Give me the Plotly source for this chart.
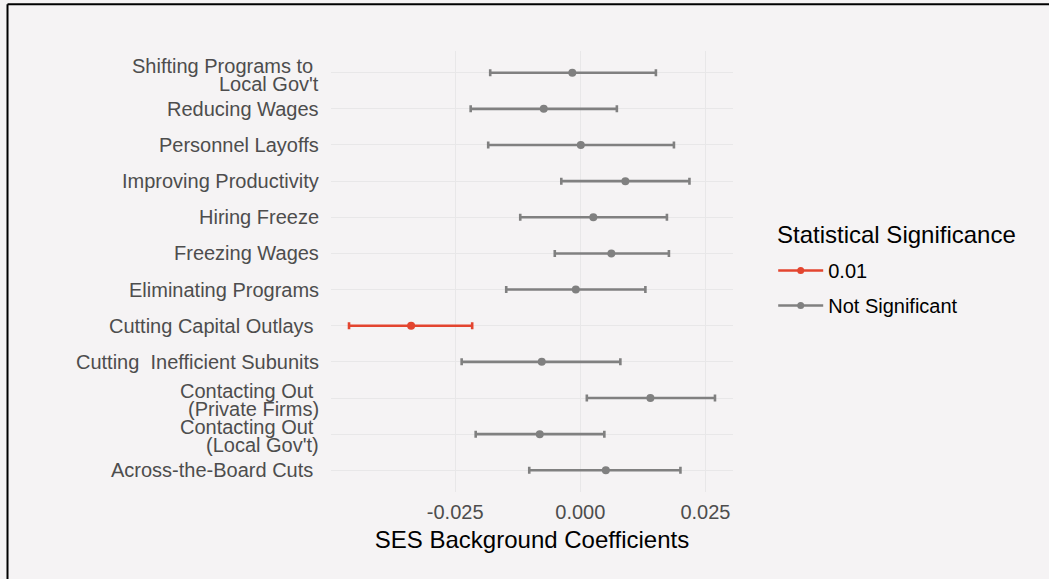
import plotly.graph_objects as go

# Strategies, listed top to bottom (line breaks marked with <br>)
strategies = [
    "Shifting Programs to <br>Local Gov't",
    "Reducing Wages",
    "Personnel Layoffs",
    "Improving Productivity",
    "Hiring Freeze",
    "Freezing Wages",
    "Eliminating Programs",
    "Cutting Capital Outlays ",
    "Cutting  Inefficient Subunits",
    "Contacting Out <br>(Private Firms)",
    "Contacting Out <br>(Local Gov't)",
    "Across-the-Board Cuts ",
]
coef = [-0.0016, -0.0073, 0.0001, 0.0090, 0.0026, 0.0062, -0.0009, -0.0338, -0.0077, 0.0140, -0.0081, 0.0051]
lower = [-0.0180, -0.0219, -0.0184, -0.0038, -0.0120, -0.0051, -0.0148, -0.0462, -0.0237, 0.0013, -0.0209, -0.0102]
upper = [0.0151, 0.0073, 0.0187, 0.0218, 0.0173, 0.0177, 0.0130, -0.0216, 0.0080, 0.0269, 0.0048, 0.0200]
significance = ["Not Significant"] * 7 + ["0.01"] + ["Not Significant"] * 4

levels = ["0.01", "Not Significant"]
colors = {"0.01": "#E3452F", "Not Significant": "#808080"}

x_ticks = [-0.025, 0.0, 0.025]
x_tick_text = ["-0.025", "0.000", "0.025"]

FONT = "Liberation Sans, Arial, sans-serif"
TICK_SIZE = 20
TITLE_SIZE = 24
LINE_GAP = 18  # px between lines of a wrapped category label

fig = go.Figure()

for lvl in levels:
    idx = [i for i, s in enumerate(significance) if s == lvl]
    fig.add_trace(go.Scatter(
        x=[coef[i] for i in idx],
        y=[strategies[i] for i in idx],
        mode="markers",
        marker=dict(color=colors[lvl], size=8),
        error_x=dict(
            type="data", symmetric=False,
            array=[upper[i] - coef[i] for i in idx],
            arrayminus=[coef[i] - lower[i] for i in idx],
            color=colors[lvl], thickness=2.6, width=3.5,
        ),
        showlegend=False,
        hoverinfo="x+y",
    ))
    # legend key: line with a dot, as in a pointrange key
    fig.add_trace(go.Scatter(
        x=[None], y=[None], mode="lines+markers", name=lvl,
        legendgroup=lvl,
        line=dict(color=colors[lvl], width=2.6),
        marker=dict(color=colors[lvl], size=7),
        showlegend=True,
    ))

# Category labels drawn beside the axis so wrapped labels keep a tight line gap
annotations = []
for cat in strategies:
    lines = cat.split("<br>")
    n = len(lines)
    for j, line in enumerate(lines):
        shift = ((n - 1) / 2 - j) * LINE_GAP - (2 if n > 1 else 0)
        # keep a trailing blank visible so such labels sit slightly inward
        text = line[:-1] + "\u00a0" if line.endswith(" ") else line
        annotations.append(dict(
            x=0, xref="paper", xanchor="right", xshift=-10,
            y=cat, yref="y", yanchor="middle", yshift=shift,
            text=text, showarrow=False, align="right",
            font=dict(size=TICK_SIZE, color="#4D4D4D", family=FONT),
        ))

# Legend heading
annotations.append(dict(
    x=1.105, xref="paper", xanchor="left",
    y=(492 - 234) / 441, yref="paper", yanchor="middle",
    text="Statistical Significance", showarrow=False,
    font=dict(size=TITLE_SIZE, color="#000000", family=FONT),
))

bg = "#F5F3F4"
grid = "#E8E7E8"

fig.update_layout(
    width=1049, height=579,
    paper_bgcolor=bg, plot_bgcolor=bg,
    margin=dict(l=331, r=316, t=51, b=87),
    font=dict(family=FONT, color="#000000"),
    xaxis=dict(
        range=[-0.0498, 0.0305],
        tickmode="array", tickvals=x_ticks, ticktext=x_tick_text,
        showgrid=True, gridcolor=grid, gridwidth=1.3,
        zeroline=False, showline=False,
        ticks="", ticklabelstandoff=6,
        tickfont=dict(size=TICK_SIZE, color="#4D4D4D", family=FONT),
        title=dict(text="SES Background Coefficients", standoff=9,
                   font=dict(size=TITLE_SIZE, color="#000000", family=FONT)),
    ),
    yaxis=dict(
        type="category",
        categoryorder="array", categoryarray=strategies[::-1],
        range=[-0.6, len(strategies) - 0.4],
        showgrid=True, gridcolor=grid, gridwidth=1.3,
        zeroline=False, showline=False,
        ticks="", showticklabels=False,
    ),
    legend=dict(
        font=dict(size=TICK_SIZE, color="#000000", family=FONT),
        x=1.1, xanchor="left", y=(492 - 251) / 441, yanchor="top",
        bgcolor="rgba(0,0,0,0)", itemwidth=45, tracegroupgap=6,
    ),
    annotations=annotations,
    shapes=[
        dict(type="line", xref="paper", yref="paper", x0=-0.8047, x1=-0.8047, y0=-0.3, y1=1.106,
             line=dict(color="#000000", width=2)),
        dict(type="line", xref="paper", yref="paper", x0=-0.8047, x1=1.9, y0=1.106, y1=1.106,
             line=dict(color="#000000", width=2)),
    ],
)

fig.write_html("out.html")
